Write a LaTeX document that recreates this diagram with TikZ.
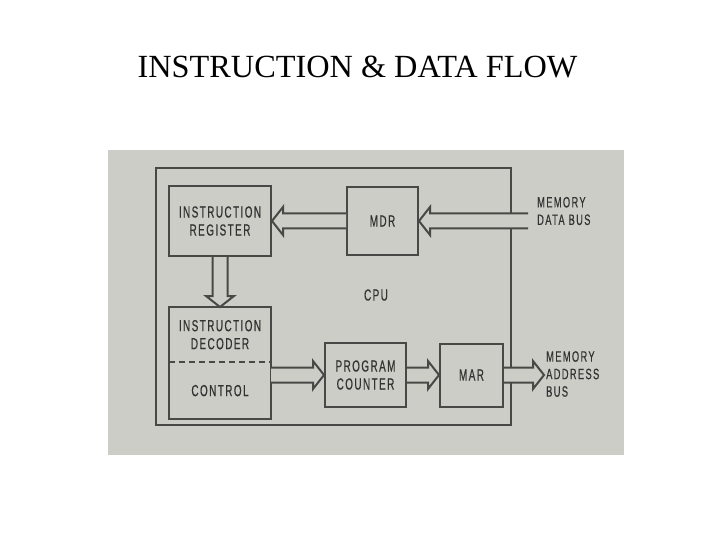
\documentclass[tikz,border=0pt]{standalone}
\usepackage{fontspec}
\usepackage{tikz}
\usetikzlibrary{positioning, calc}
\newfontfamily\titlefont{Liberation Serif}
\newfontfamily\draftfont{Liberation Sans}[FakeStretch=0.62, LetterSpace=9, FakeBold=0.4]
\definecolor{paper}{RGB}{204,205,198}
\definecolor{ink}{RGB}{72,72,70}
\definecolor{lettering}{RGB}{50,50,50}

\begin{document}
\begin{tikzpicture}[
  x=1pt, y=-1pt,
  box/.style={draw=ink, line width=2pt, inner sep=0pt, align=center, text=lettering, font=\draftfont\fontsize{16}{18}\selectfont},
  part/.style={inner sep=0pt, align=center, text=lettering, font=\draftfont\fontsize{16}{18}\selectfont},
  busname/.style={anchor=west, align=left, inner sep=0pt, text=lettering, font=\draftfont\fontsize{15}{17.5}\selectfont},
  bus/.style={draw=ink, fill=paper, line width=2pt, line join=miter, to path={
    let \p1=(\tikztostart), \p2=(\tikztotarget), \p3=($(\p2)!11pt!(\p1)$) in
    ($(\p1)!7.5pt!90:(\p2)$) -- ($(\p3)!7.5pt!-90:(\p1)$) -- ($(\p3)!14pt!-90:(\p1)$) -- (\p2)
    -- ($(\p3)!14pt!90:(\p1)$) -- ($(\p3)!7.5pt!90:(\p1)$) -- ($(\p1)!7.5pt!-90:(\p2)$)}},
  node distance=50pt and 74pt
]
\useasboundingbox (0,0) rectangle (720,540);
\fill[paper] (108,150) rectangle (624,455);

\node[font=\titlefont\fontsize{32.3}{36}\selectfont, anchor=base] (title) at (357.5,78) {INSTRUCTION \& DATA FLOW};

% cpu frame
\node[draw=ink, line width=2pt, minimum width=355pt, minimum height=257pt] (cpu) at (333.5,296.5) {};
\node[part] (cpulabel) at (376,295) {CPU};

\node[box, minimum width=102pt, minimum height=70pt] (ir) at (220,221) {INSTRUCTION\\REGISTER};
\node[box, minimum width=71pt, minimum height=67pt, right=of ir] (mdr) {MDR};
\node[part, minimum width=102pt, minimum height=55pt, below=of ir] (idec) {INSTRUCTION\\DECODER};
\node[part, minimum width=102pt, minimum height=56pt, below=0pt of idec] (ctl) {CONTROL};
\draw[ink, line width=2pt] (idec.north west) rectangle (ctl.south east);
\draw[ink, line width=2pt, dash pattern=on 6pt off 4pt] (ctl.north west) -- (ctl.north east);
\node[box, minimum width=81pt, minimum height=64pt] (pc) at (365.5,375) {PROGRAM\\COUNTER};
\node[box, minimum width=63pt, minimum height=63pt, right=32pt of pc] (mar) {MAR};

\coordinate (dbus) at (528,221);
\coordinate (abus) at (544,375);
\node[busname] (dbusname) at (537,211) {MEMORY\\DATA BUS};
\node[busname] (abusname) at (546,374) {MEMORY\\ADDRESS\\BUS};

\draw[bus] (mdr.west) to (ir.east);
\draw[bus] (dbus) to (mdr.east);
\draw[bus] (ir.south) to (idec.north);
\draw[bus] (ctl.east |- pc.west) to (pc.west);
\draw[bus] (pc.east) to (mar.west);
\draw[bus] (mar.east) to (abus);
\end{tikzpicture}
\end{document}
